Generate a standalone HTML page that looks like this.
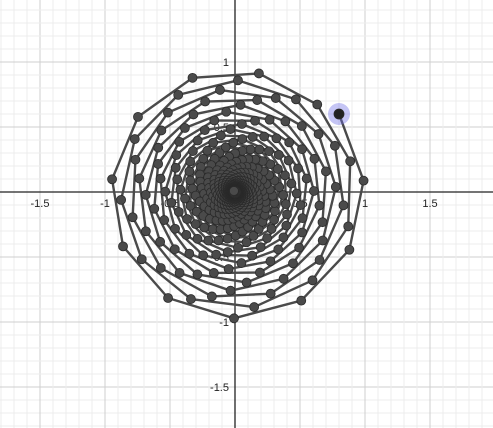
<!DOCTYPE html>
<html><head><meta charset="utf-8"><style>
html,body{margin:0;padding:0;background:#fff;}
svg{display:block;font-family:"Liberation Sans",sans-serif;}
</style></head><body>
<svg id="c" width="493" height="428" xmlns="http://www.w3.org/2000/svg"></svg>
<script>
// data
const startPoint = [0.8, 0.6];
const angleStep = [-0.5555];
const radiusRatio = [0.9928];
const pointCount = [620];
const xTickLabels = [-1.5, -1, -0.5, 0.5, 1, 1.5];
const yTickLabels = [1, 0.5, -0.5, -1, -1.5];

const W=493,H=428,X0=235,Y0=192,S=130;
const sx=v=>X0+v*S, sy=v=>Y0-v*S;
const svg=document.getElementById('c');
const NS='http://www.w3.org/2000/svg';
function mk(t,a,p){const e=document.createElementNS(NS,t);for(const k in a)e.setAttribute(k,a[k]);(p||svg).appendChild(e);return e;}

const grid=mk('g',{});


for(let i=-30;i<=30;i++){
  const v=i/10, major=(i%5===0);
  const x=sx(v), y=sy(v);
  const col=major?'#cfcfcf':'#ececec';
  if(x>=0&&x<=W) mk('line',{x1:x,y1:0,x2:x,y2:H,stroke:col,'stroke-width':1},grid);
  if(y>=0&&y<=H) mk('line',{x1:0,y1:y,x2:W,y2:y,stroke:col,'stroke-width':1},grid);
}
const xa=mk('line',{x1:0,y1:Y0,x2:W,y2:Y0,stroke:'#222','stroke-width':1.3});


const ya=mk('line',{x1:X0,y1:0,x2:X0,y2:H,stroke:'#222','stroke-width':1.3});



xTickLabels.forEach(v=>{
  const t=mk('text',{x:sx(v),y:Y0+15,'font-size':11,'text-anchor':'middle',fill:'#222'});
  t.textContent=v;
  
  
});
yTickLabels.forEach(v=>{
  const t=mk('text',{x:X0-6,y:sy(v)+4,'font-size':11,'text-anchor':'end',fill:'#222'});
  t.textContent=v;
  
  
});

// points
const pts=[];
let zx=startPoint[0], zy=startPoint[1];
const c=Math.cos(angleStep[0])*radiusRatio[0], s=Math.sin(angleStep[0])*radiusRatio[0];
for(let n=0;n<pointCount[0];n++){
  pts.push([zx,zy]);
  const nx=zx*c-zy*s, ny=zx*s+zy*c; zx=nx; zy=ny;
}
const pl=mk('polyline',{points:pts.map(p=>sx(p[0])+','+sy(p[1])).join(' '),fill:'none',stroke:'#4a4a4a','stroke-width':2.4,'stroke-linejoin':'round'});



const hl=mk('circle',{cx:sx(startPoint[0]),cy:sy(startPoint[1]),r:11,fill:'rgba(110,110,230,0.4)'});



const dots=mk('g',{});


pts.forEach((p,i)=>{
  const d=mk('circle',{cx:sx(p[0]),cy:sy(p[1]),r:i===0?5:4.5,fill:i===0?'#222':'#4a4a4a',stroke:'#2a2a2a','stroke-width':0.8},dots);
  
  
});
</script>
</body></html>
